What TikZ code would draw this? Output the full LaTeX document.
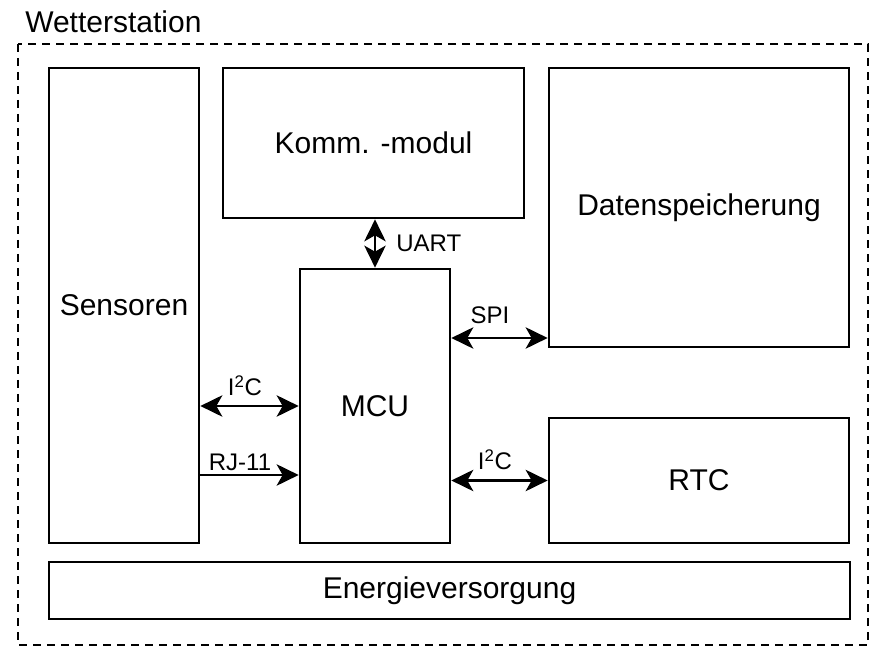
\documentclass[tikz,border=0pt]{standalone}
\usepackage{fontspec}
\setmainfont{Liberation Sans}
\usetikzlibrary{arrows.meta}
\tikzstyle{block}=[draw, line width=2pt, inner sep=0pt, font=\fontsize{22.5}{27}\selectfont]
\tikzstyle{lbl}=[inner sep=0pt, font=\fontsize{18}{21}\selectfont]
\tikzstyle{bus}=[line width=2pt, {Stealth[length=16.5pt,width=16pt,inset=4.5pt]}-{Stealth[length=16.5pt,width=16pt,inset=4.5pt]}]
\tikzstyle{feed}=[line width=2pt, -{Stealth[length=16.5pt,width=16pt,inset=4.5pt]}]

\begin{document}
\begin{tikzpicture}[x=0.75pt, y=-0.75pt]
	\useasboundingbox (0,0) rectangle (886,659);
	%\draw[help lines] (0,0) grid (886,659);
	\draw[line width=2pt, dash pattern=on 6pt off 4.5pt] (18,44) rectangle (868,645);%frame
	\node[lbl, anchor=west, font=\fontsize{22.5}{27}\selectfont] (title) at (25,22) {Wetterstation};

	\node[block, minimum width=112.5pt, minimum height=356.25pt] (sens) at (124,305.5) {Sensoren};
	\node[block, minimum width=225.75pt, minimum height=112.5pt] (komm) at (373.5,143) {Komm. -modul};
	\node[block, minimum width=225pt, minimum height=209.25pt] (daten) at (699,207.5) {Datenspeicherung};
	\node[block, minimum width=112.5pt, minimum height=205.5pt] (mcu) at (375,406) {MCU};
	\node[block, minimum width=225pt, minimum height=93.75pt] (rtc) at (699,480.5) {RTC};
	\node[block, minimum width=600.75pt, minimum height=42.75pt] (energie) at (449.5,590.5) {Energieversorgung};

	\draw[bus] (mcu.north |- komm.south) -- (mcu.north);%uart
	\node[lbl, anchor=west] (uart) at (396,243) {UART};

	\draw[bus] (mcu.east |- 0,338) -- (daten.west |- 0,338);%spi
	\node[lbl] (spi) at (490,315) {SPI};

	\draw[bus] (sens.east |- mcu.west) -- (mcu.west);%i2c sensors
	\node[lbl] (iic) at (245,386) {I\textsuperscript{2}C};

	\draw[feed] (sens.east |- 0,475) -- (mcu.west |- 0,475);%rj-11
	\node[lbl] (rj) at (240,462) {RJ-11};

	\draw[bus] (mcu.east |- rtc.west) -- (rtc.west);%i2c rtc
	\node[lbl] (iicrtc) at (495,460) {I\textsuperscript{2}C};
\end{tikzpicture}
\end{document}
